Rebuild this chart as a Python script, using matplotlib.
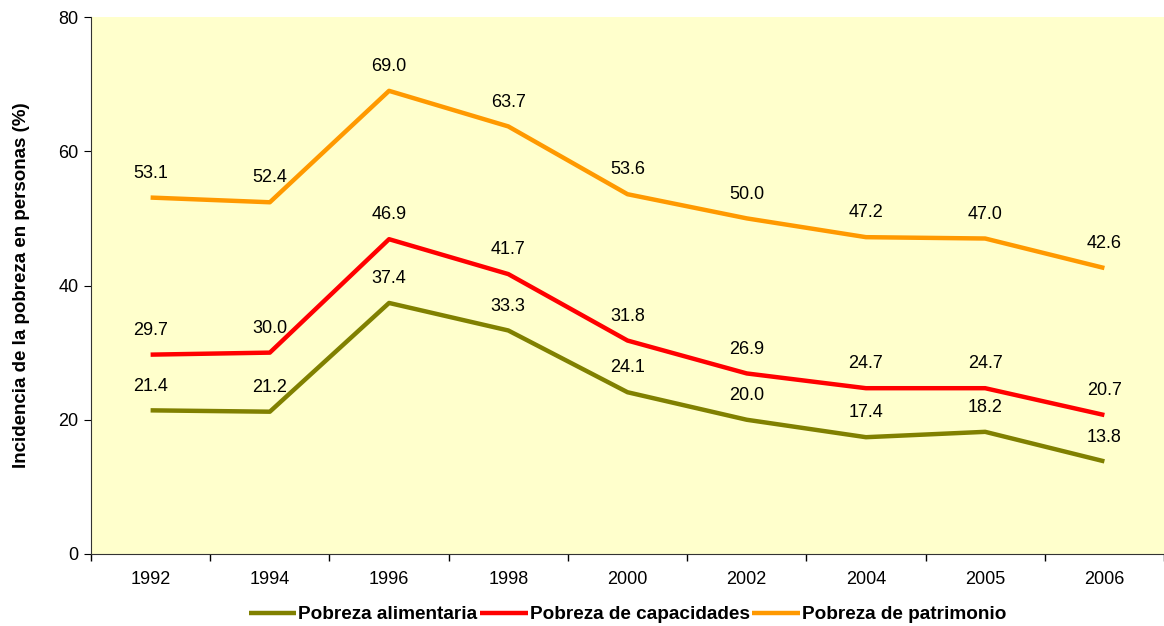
import matplotlib
matplotlib.use('Agg')
import matplotlib.pyplot as plt
import numpy as np

# data
years = ['1992', '1994', '1996', '1998', '2000', '2002', '2004', '2005', '2006']
alimentaria = [21.4, 21.2, 37.4, 33.3, 24.1, 20.0, 17.4, 18.2, 13.8]
capacidades = [29.7, 30.0, 46.9, 41.7, 31.8, 26.9, 24.7, 24.7, 20.7]
patrimonio = [53.1, 52.4, 69.0, 63.7, 53.6, 50.0, 47.2, 47.0, 42.6]

series = [
    ('Pobreza alimentaria', alimentaria, '#808000'),
    ('Pobreza de capacidades', capacidades, '#FF0000'),
    ('Pobreza de patrimonio', patrimonio, '#FF9900'),
]

plt.rcParams['font.family'] = ['Liberation Sans', 'DejaVu Sans']
fs = 13

fig = plt.figure(figsize=(11.64, 6.26), dpi=100)
ax = fig.add_axes([91 / 1164, 1 - 554 / 626, (1164 - 91) / 1164, (554 - 17) / 626])
ax.set_facecolor('#FFFFCC')

x = np.arange(len(years))
for name, vals, col in series:
    ax.plot(x, vals, color=col, lw=3.2, label=name, solid_capstyle='butt')
    for xi, v in zip(x, vals):
        ax.annotate(f'{v:.1f}', (xi, v), xytext=(0, 17.5), textcoords='offset points',
                    ha='center', va='center', fontsize=fs)

ax.set_xlim(-0.5, len(years) - 0.5)
ax.set_ylim(0, 80)
ax.set_yticks([0, 20, 40, 60, 80])
ax.set_xticks(x)
ax.set_xticklabels(years, fontsize=fs)
ax.set_xticks(np.arange(-0.5, len(years), 1.0), minor=True)
ax.tick_params(axis='x', which='major', length=0, pad=12)
ax.tick_params(axis='x', which='minor', length=5, direction='out', width=1)
ax.tick_params(axis='y', length=5, direction='out', labelsize=fs, pad=4)
for s in ['top', 'right']:
    ax.spines[s].set_visible(False)
ax.spines['left'].set_color('#333333')
ax.spines['bottom'].set_color('#333333')

ax.set_ylabel('Incidencia de la pobreza en personas (%)', fontsize=13.5, fontweight='bold', labelpad=20)

leg = ax.legend(loc='center', bbox_to_anchor=(0.5, -0.113), ncol=3, frameon=False,
                prop={'weight': 'bold', 'size': 13.7}, handlelength=2.5, columnspacing=0.15,
                handletextpad=0.1, borderpad=0)

fig.savefig('out.png', dpi=100)
